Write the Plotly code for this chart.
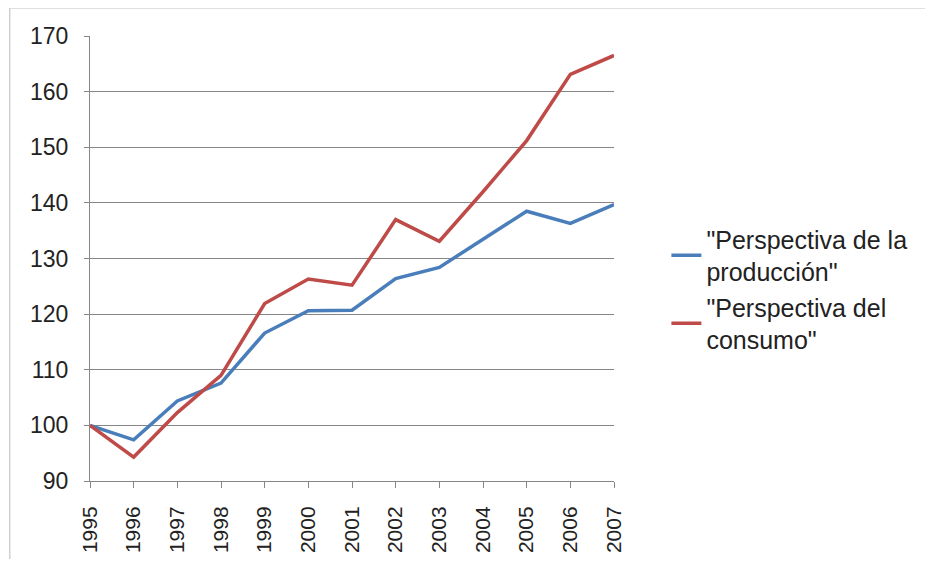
import plotly.graph_objects as go

years = [1995, 1996, 1997, 1998, 1999, 2000, 2001, 2002, 2003, 2004, 2005, 2006, 2007]
produccion = [100, 97.4, 104.4, 107.6, 116.6, 120.6, 120.7, 126.4, 128.4, 133.5, 138.5, 136.3, 139.7]
consumo = [100, 94.3, 102.3, 109.0, 121.9, 126.3, 125.2, 137.0, 133.1, 142.0, 151.2, 163.1, 166.5]
names = ['"Perspectiva de la<br>producción"', '"Perspectiva del<br>consumo"']
colors = ["#4A7EBB", "#BE4B48"]
y_ticks = [90, 100, 110, 120, 130, 140, 150, 160, 170]

fig = go.Figure()
fig.add_trace(go.Scatter(x=years, y=produccion, mode="lines", name=names[0],
                         line=dict(color=colors[0], width=3.5)))
fig.add_trace(go.Scatter(x=years, y=consumo, mode="lines", name=names[1],
                         line=dict(color=colors[1], width=3.5)))

font = "Liberation Sans, Arial, sans-serif"
fig.update_layout(
    template="none",
    width=917, height=551,
    margin=dict(l=82, r=311, t=28, b=78, autoexpand=False),
    paper_bgcolor="white", plot_bgcolor="white",
    font=dict(family=font, size=23, color="#222222"),
    showlegend=True,
    legend=dict(x=1.10, y=0.595, xanchor="left", yanchor="top",
                font=dict(size=25, family=font, color="#222222"), tracegroupgap=14,
                bgcolor="rgba(0,0,0,0)"),
    xaxis=dict(range=[1995, 2007], tickvals=years, ticktext=[str(y) for y in years],
               tickangle=-90, showgrid=False, showline=True, linecolor="#868686",
               linewidth=1, ticks="outside", ticklen=6, tickcolor="#868686",
               zeroline=False, tickfont=dict(size=21), ticklabelstandoff=10,
               automargin=False),
    yaxis=dict(range=[90, 170], tickvals=y_ticks, showgrid=True, gridcolor="#868686",
               gridwidth=1, showline=True, linecolor="#868686", linewidth=1,
               ticks="outside", ticklen=5, tickcolor="#868686", zeroline=False,
               tickfont=dict(size=23), ticklabelstandoff=11, automargin=False),
    shapes=[dict(type="rect", xref="paper", yref="paper",
                 x0=-0.153, x1=2.0, y0=-1.0, y1=1.063,
                 line=dict(color="#BBBBBB", width=1), fillcolor="rgba(0,0,0,0)",
                 layer="below")],
)

fig.write_html("out.html")
